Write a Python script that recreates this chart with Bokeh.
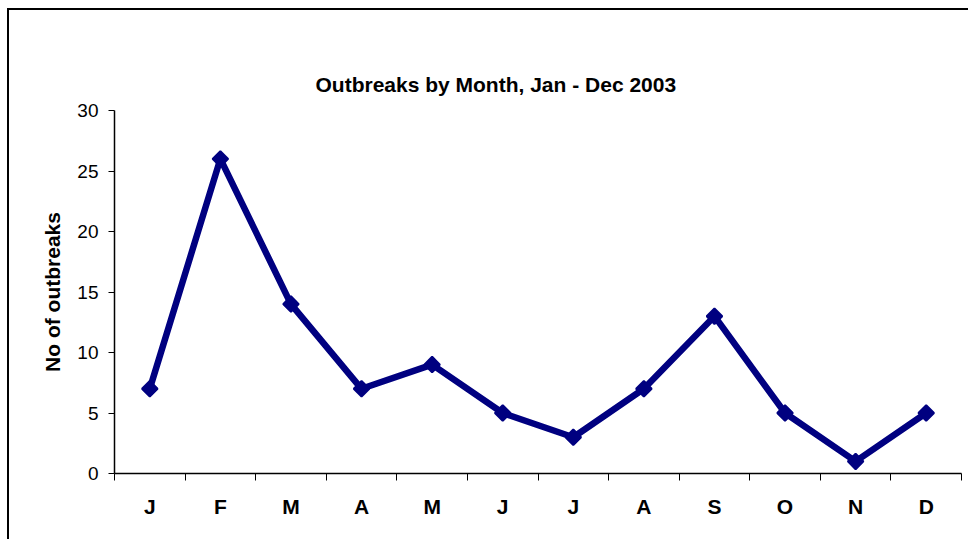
from bokeh.plotting import figure
from bokeh.models import FixedTicker, Range1d
from bokeh.embed import file_html
from bokeh.resources import INLINE

# Monthly outbreak counts, 2003
months = ["J", "F", "M", "A", "M", "J", "J", "A", "S", "O", "N", "D"]
outbreaks = [7, 26, 14, 7, 9, 5, 3, 7, 13, 5, 1, 5]
y_ticks = [0, 5, 10, 15, 20, 25, 30]
title_text = "Outbreaks by Month, Jan - Dec 2003"
y_title = "No of outbreaks"

NAVY = "#000080"
FONT = "Liberation Sans"

# category centres sit half-way between the boundary ticks
xc = [i + 0.5 for i in range(len(months))]

# the chart area is framed on its top and left; the canvas starts inside the frame
p = figure(width=961, height=531, output_backend="svg", toolbar_location=None,
           x_range=Range1d(0, len(months)), y_range=Range1d(0, 30),
           min_border_left=105, min_border_right=9,
           min_border_top=100, min_border_bottom=68)
p.margin = (8, 0, 0, 7)
p.styles = {"border-top": "2px solid black", "border-left": "2px solid black"}
p.outline_line_color = None
p.background_fill_color = "white"
p.border_fill_color = "white"
p.xgrid.visible = False
p.ygrid.visible = False

p.title.text = title_text
p.title.align = "left"
p.title.offset = 201
p.title.text_font = FONT
p.title.text_font_style = "bold"
p.title.text_font_size = "21px"
p.title.text_color = "black"
p.title.standoff = 29

# x axis: labels at category centres, tick marks at category boundaries
xa = p.xaxis[0]
xa.ticker = FixedTicker(ticks=xc, minor_ticks=list(range(len(months) + 1)))
xa.major_label_overrides = {c: m for c, m in zip(xc, months)}
xa.major_tick_line_color = None
xa.major_tick_out = 7
xa.major_tick_in = 0
xa.minor_tick_out = 7
xa.minor_tick_in = 0
xa.minor_tick_line_color = "black"
xa.axis_line_color = "black"
xa.axis_line_width = 1.5
xa.major_label_standoff = 14
xa.major_label_text_font = FONT
xa.major_label_text_font_style = "bold"
xa.major_label_text_font_size = "21px"
xa.major_label_text_color = "black"

ya = p.yaxis[0]
ya.ticker = FixedTicker(ticks=y_ticks, minor_ticks=[])
ya.major_tick_out = 6
ya.major_tick_in = 0
ya.major_tick_line_color = "black"
ya.axis_line_color = "black"
ya.axis_line_width = 1.5
ya.major_label_standoff = 10
ya.major_label_text_font = FONT
ya.major_label_text_font_size = "19px"
ya.major_label_text_color = "black"
ya.axis_label = y_title
ya.axis_label_text_font = FONT
ya.axis_label_text_font_style = "bold"
ya.axis_label_text_font_size = "21px"
ya.axis_label_text_color = "black"
ya.axis_label_standoff = 10

p.line(xc, outbreaks, line_color=NAVY, line_width=6.5, line_join="round")
p.scatter(xc, outbreaks, marker="square", size=11, angle=0.785398,
          fill_color=NAVY, line_color=NAVY, line_width=2)

open("out.html", "w").write(file_html(p, INLINE))
